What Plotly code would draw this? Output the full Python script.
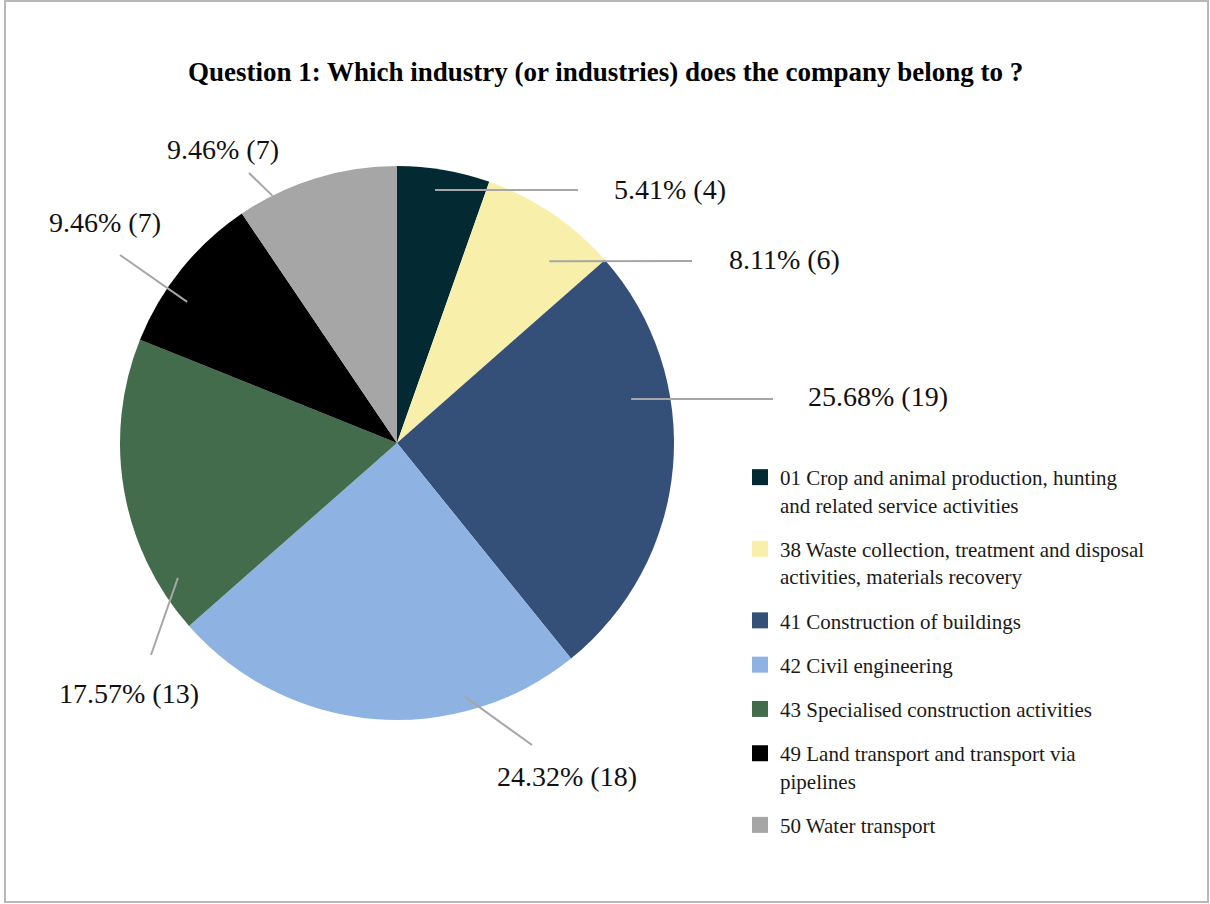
import math
import plotly.graph_objects as go

# Survey answers: industry codes, how many companies picked each, slice colours
industries = [
    "01 Crop and animal production, hunting and related service activities",
    "38 Waste collection, treatment and disposal activities, materials recovery",
    "41 Construction of buildings",
    "42 Civil engineering",
    "43 Specialised construction activities",
    "49 Land transport and transport via pipelines",
    "50 Water transport",
]
legend_names = [
    "01 Crop and animal production, hunting<br>and related service activities",
    "38 Waste collection, treatment and disposal<br>activities, materials recovery",
    "41 Construction of buildings",
    "42 Civil engineering",
    "43 Specialised construction activities",
    "49 Land transport and transport via<br>pipelines",
    "50 Water transport",
]
counts = [4, 6, 19, 18, 13, 7, 7]
colors = ["#032a33", "#f8f0aa", "#344f78", "#8eb3e2", "#426c4b", "#000000", "#a6a6a6"]
title_text = "Question 1: Which industry (or industries) does the company belong to ?"

# Page geometry (pixels)
W, H = 1210, 904
CX, CY, R = 397, 443, 277
FONT = "Liberation Serif, Times New Roman, serif"

# Per-label placement: angular nudge from slice middle (deg), radius fraction of
# the leader-line start, leader-line end and text position relative to the centre.
label_layout = [
    dict(nudge=-1.2, rf=0.924, end=(181, -253), text=(215, -254), anchor="left"),
    dict(nudge=5.9, rf=0.856, end=(295, -182), text=(330, -184), anchor="left"),
    dict(nudge=-15.5, rf=0.86, end=(376, -44), text=(409, -47), anchor="left"),
    dict(nudge=-19.9, rf=0.949, end=(135, 302), text=(170, 333), anchor="center"),
    dict(nudge=-21.9, rf=0.929, end=(-246, 212), text=(-268, 250), anchor="center"),
    dict(nudge=-5.0, rf=0.913, end=(-277, -188), text=(-292, -221), anchor="center"),
    dict(nudge=-9.7, rf=1.0, end=(-148, -270), text=(-174, -293), anchor="center"),
]


def px(x):
    return x / W


def py(y):
    return 1 - y / H


total = sum(counts)

fig = go.Figure()
fig.add_trace(
    go.Pie(
        labels=industries,
        values=counts,
        sort=False,
        direction="clockwise",
        rotation=0,
        marker=dict(colors=colors, line=dict(width=0)),
        textinfo="none",
        showlegend=False,
        domain=dict(x=[px(CX - R), px(CX + R)], y=[py(CY + R), py(CY - R)]),
        hovertemplate="%{label}<br>%{percent} (%{value})<extra></extra>",
    )
)

# Legend entries (one group each so the spacing between entries can be set)
for i, (name, col) in enumerate(zip(legend_names, colors)):
    fig.add_trace(
        go.Scatter(
            x=[None],
            y=[None],
            mode="markers",
            marker=dict(symbol="square", size=16, color=col, line=dict(width=0)),
            name=name,
            legendgroup=f"g{i}",
            showlegend=True,
            hoverinfo="skip",
        )
    )

shapes = []
annotations = []
cum = 0
for cnt, lay in zip(counts, label_layout):
    start = cum / total * 360
    sweep = cnt / total * 360
    cum += cnt
    ang = math.radians(start + sweep / 2 + lay["nudge"])
    r = lay["rf"] * R
    x0 = CX + r * math.sin(ang)
    y0 = CY - r * math.cos(ang)
    x1 = CX + lay["end"][0]
    y1 = CY + lay["end"][1]
    shapes.append(
        dict(
            type="line", xref="paper", yref="paper",
            x0=px(x0), y0=py(y0), x1=px(x1), y1=py(y1),
            line=dict(color="#a6a6a6", width=2),
        )
    )
    pct = cnt / total * 100
    annotations.append(
        dict(
            text=f"{pct:.2f}% ({cnt})",
            xref="paper", yref="paper",
            x=px(CX + lay["text"][0]), y=py(CY + lay["text"][1]),
            xanchor=lay["anchor"], yanchor="middle",
            showarrow=False,
            font=dict(family=FONT, size=28, color="#111111"),
        )
    )

# Title
annotations.append(
    dict(
        text=f"<b>{title_text}</b>",
        xref="paper", yref="paper", x=px(605), y=py(72),
        xanchor="center", yanchor="middle", showarrow=False,
        font=dict(family=FONT, size=27, color="#000000"),
    )
)

# Frame around the chart area
shapes.append(
    dict(
        type="rect", xref="paper", yref="paper",
        x0=px(5), x1=px(1208), y0=py(902), y1=py(1),
        line=dict(color="#b8b8b8", width=2), fillcolor="rgba(0,0,0,0)",
        layer="below",
    )
)

fig.update_layout(
    width=W,
    height=H,
    margin=dict(l=0, r=0, t=0, b=0),
    paper_bgcolor="white",
    plot_bgcolor="white",
    xaxis=dict(visible=False),
    yaxis=dict(visible=False),
    shapes=shapes,
    annotations=annotations,
    showlegend=True,
    legend=dict(
        x=px(740), y=py(457), xanchor="left", yanchor="top",
        font=dict(family=FONT, size=21, color="#1a1a1a"),
        tracegroupgap=14, traceorder="grouped", valign="top",
        bgcolor="rgba(0,0,0,0)", itemclick=False, itemdoubleclick=False,
    ),
)

fig.write_html("out.html")
